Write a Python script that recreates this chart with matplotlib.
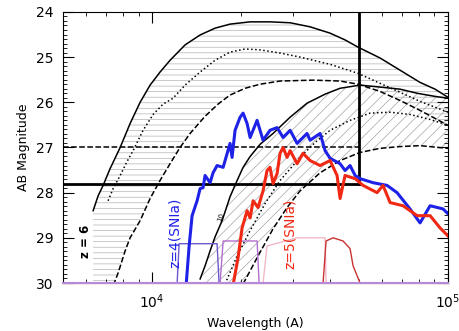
#!/usr/bin/env python
# AB magnitude vs wavelength: galaxy bands (z=6, z=10), SNIa spectra, filter curves
import numpy as np
import matplotlib
matplotlib.use('Agg')
import matplotlib.pyplot as plt
from matplotlib.ticker import MultipleLocator, FixedLocator, NullFormatter

plt.rcParams['hatch.linewidth'] = 0.5

# band 1 (z = 6): solid / dotted / dashed curves
b1_solid_wl = [6320, 6570, 6830, 7210, 7800, 8426, 9110, 9845, 10640, 11500, 12925, 14530,
               16320, 18340, 21440, 25030, 29270, 34190, 39940, 44880, 49660, 58920, 68840,
               80430, 90400, 100000]
b1_solid_mag = [28.40, 28.07, 27.84, 27.47, 27.00, 26.47, 26.00, 25.62, 25.33, 25.07, 24.73, 24.51,
                24.36, 24.27, 24.22, 24.22, 24.24, 24.33, 24.47, 24.62, 24.78, 25.02, 25.29,
                25.56, 25.71, 25.89]
b1_dot_wl = [7100, 7384, 7800, 8232, 8626, 9324, 10078, 10893, 11770, 12925, 14530, 16320,
             18340, 20620, 23170, 27060, 31620, 39940, 49660, 58920, 68840, 80430, 100000]
b1_dot_mag = [28.18, 27.91, 27.62, 27.31, 27.07, 26.62, 26.27, 26.04, 25.91, 25.62, 25.33, 25.07,
              24.89, 24.82, 24.84, 24.91, 25.0, 25.16, 25.36, 25.58, 25.78, 25.98, 26.22]
b1_dash_wl = [7400, 7675, 8105, 8426, 9110, 9845, 10640, 11500, 12430, 13440, 15100, 16710,
              18340, 20620, 23170, 27060, 34990, 43170, 49660, 58920, 68840, 80430, 100000]
b1_dash_mag = [30.05, 29.78, 29.29, 29.0, 28.62, 28.13, 27.73, 27.36, 27.0, 26.69, 26.31, 26.04,
               25.84, 25.69, 25.6, 25.53, 25.51, 25.53, 25.6, 25.76, 25.96, 26.18, 26.51]

# band 2 (higher z)
b2_solid_wl = [14530, 15100, 15700, 16320, 17240, 18340, 19380, 20300, 21440, 23170, 25630,
               29270, 33390, 38420, 43170, 50430, 60310, 68840, 78620, 90400, 100000]
b2_solid_mag = [29.91, 29.62, 29.29, 28.98, 28.62, 28.09, 27.73, 27.44, 27.2, 26.93, 26.69,
                26.33, 26.02, 25.82, 25.69, 25.62, 25.67, 25.71, 25.8, 25.87, 25.91]
b2_dot_wl = [17650, 19380, 21440, 24090, 27060, 31620, 35540, 39940, 46660, 54520, 63700,
             74380, 86960, 100000]
b2_dot_mag = [30.02, 29.4, 28.84, 28.24, 27.73, 27.22, 26.89, 26.62, 26.4, 26.24, 26.22,
              26.27, 26.38, 26.51]
b2_dash_wl = [20300, 22810, 25630, 28580, 31620, 36950, 43170, 50430, 58920, 68840, 80430, 100000]
b2_dash_mag = [30.02, 29.4, 28.8, 28.33, 27.96, 27.56, 27.29, 27.11, 27.02, 26.98, 26.96, 27.02]

# SNIa spectra
blue_wl = [13030, 13340, 13650, 14190, 14530, 14870, 15100, 15700, 16070, 16580, 17380, 18340,
           18630, 19070, 19830, 20300, 20940, 21440, 22630, 23710, 25030, 26440, 27710, 29270,
           30900, 33390, 34190, 36950, 38420, 39940, 43170, 44880, 46660, 48520, 50430, 55800,
           62220, 67250, 74380, 80430, 86960, 96180, 100000]
blue_mag = [30.05, 29.18, 28.51, 28.18, 27.91, 27.89, 27.62, 27.78, 27.56, 27.4, 27.44, 26.91,
            27.22, 26.62, 26.33, 26.24, 26.47, 26.78, 26.4, 26.84, 26.62, 26.56, 26.78, 26.62,
            26.91, 26.69, 26.84, 26.69, 27.07, 27.24, 27.36, 27.51, 27.4, 27.62, 27.69, 27.78,
            27.84, 28.0, 28.36, 28.67, 28.29, 28.36, 28.47]
red_wl = [18770, 19520, 20140, 20940, 21440, 21940, 22810, 23710, 24460, 25030, 25630, 26440,
          27060, 27710, 28580, 29270, 30900, 32360, 34190, 36950, 39940, 42170, 43170, 44880,
          48520, 51620, 57560, 60310, 63700, 70470, 78620, 86960, 93970, 100000]
red_mag = [30.05, 29.44, 28.78, 28.4, 28.56, 28.18, 28.33, 27.96, 27.51, 27.44, 27.8, 27.58,
           27.13, 27.0, 27.22, 27.07, 27.36, 27.13, 27.29, 27.4, 27.29, 27.62, 28.13, 27.62,
           27.69, 27.84, 28.0, 27.84, 28.22, 28.29, 28.51, 28.51, 28.78, 28.96]

# filter transmission curves (drawn in magnitude space)
f1_wl = [12150, 12340, 16580, 16840]
f1_mag = [30.0, 29.13, 29.13, 30.0]
f2_wl = [16970, 17380, 22630, 22990]
f2_mag = [30.0, 29.07, 29.07, 30.0]
f3_wl = [23710, 24460, 30900, 38420, 38710]
f3_mag = [30.0, 29.18, 29.0, 29.0, 30.0]
f4_wl = [37820, 38710, 40880, 44190, 46660, 47770, 50430]
f4_mag = [30.0, 29.07, 29.0, 29.07, 29.24, 29.62, 30.0]

lim_mag = 27.8
lim_mag2 = 27.0
lim_wl = 5e4

fig = plt.figure(figsize=(4.6, 3.31), dpi=100)
ax = fig.add_axes([0.137, 0.145, 0.837, 0.819])
ax.set_xscale('log')

# hatched bands
poly1_wl = b1_solid_wl + b1_dash_wl[::-1] + [6320]
poly1_mag = b1_solid_mag + b1_dash_mag[::-1] + [30.05]
ax.fill(poly1_wl, poly1_mag, facecolor='none', edgecolor='0.7', hatch='---', linewidth=0)
poly2_wl = [14300] + b2_solid_wl + b2_dash_wl[::-1]
poly2_mag = [30.1] + b2_solid_mag + b2_dash_mag[::-1]
ax.fill(poly2_wl, poly2_mag, facecolor='none', edgecolor='0.65', hatch='///', linewidth=0)

ax.plot(b1_solid_wl, b1_solid_mag, 'k-', lw=1.1)
ax.plot(b1_dot_wl, b1_dot_mag, 'k:', lw=1.1)
ax.plot(b1_dash_wl, b1_dash_mag, 'k--', lw=1.1)
ax.plot(b2_solid_wl, b2_solid_mag, 'k-', lw=1.1)
ax.plot(b2_dot_wl, b2_dot_mag, 'k:', lw=1.1)
ax.plot(b2_dash_wl, b2_dash_mag, 'k--', lw=1.1)

# limits
ax.plot([5000, lim_wl], [lim_mag, lim_mag], 'k-', lw=2)
ax.plot([lim_wl, lim_wl], [24, lim_mag], 'k-', lw=2)
ax.plot([5000, lim_wl], [lim_mag2, lim_mag2], 'k--', lw=1.1)

# filters
ax.plot([5000, 100000], [30, 30], color='#b68ad8', lw=1.5, zorder=4, clip_on=False)
ax.plot(f1_wl, f1_mag, color='#6a5acd', lw=1.0)
ax.plot(f2_wl, f2_mag, color='#b070d0', lw=1.0)
ax.plot(f3_wl, f3_mag, color='#f2b8c6', lw=1.0)
ax.plot(f4_wl, f4_mag, color='#c83232', lw=1.0)

# spectra
ax.plot(blue_wl, blue_mag, color='#1e22e6', lw=2.2)
ax.plot(red_wl, red_mag, color='#f02814', lw=2.2)

ax.text(5937, 29.07, 'z = 6', rotation=90, fontsize=8.5, fontweight='bold',
        ha='center', va='center')
ax.text(11960, 28.89, 'z=4(SNIa)', rotation=90, fontsize=10, color='#1e22e6',
        ha='center', va='center')
ax.text(29270, 28.91, 'z=5(SNIa)', rotation=90, fontsize=10, color='#f02814',
        ha='center', va='center')
ax.text(17100, 28.55, '10', rotation=70, fontsize=5, ha='center', va='center')

ax.set_xlim(5000, 100000)
ax.set_ylim(30, 24)

ax.xaxis.set_major_locator(FixedLocator([1e4, 1e5]))
ax.set_xticklabels([r'$10^4$', r'$10^5$'])
ax.xaxis.set_minor_locator(FixedLocator([6000, 7000, 8000, 9000] + [k * 1e4 for k in range(2, 10)]))
ax.xaxis.set_minor_formatter(NullFormatter())
ax.yaxis.set_major_locator(MultipleLocator(1))
ax.yaxis.set_minor_locator(MultipleLocator(0.1))
ax.tick_params(which='both', direction='in', top=True, right=True, labelsize=10, pad=7)
ax.tick_params(which='major', length=8)
ax.tick_params(which='minor', length=3)

ax.set_xlabel('Wavelength (A)', fontsize=9)
ax.set_ylabel('AB Magnitude', fontsize=9)

plt.savefig('out.png', dpi=100)
